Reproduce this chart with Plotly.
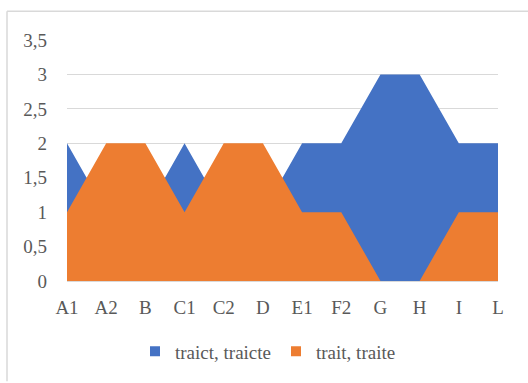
import plotly.graph_objects as go

categories = ["A1", "A2", "B", "C1", "C2", "D", "E1", "F2", "G", "H", "I", "L"]
traict_traicte = [2, 1, 1, 2, 1, 1, 2, 2, 3, 3, 2, 2]
trait_traite = [1, 2, 2, 1, 2, 2, 1, 1, 0, 0, 1, 1]
series_names = ["traict, traicte", "trait, traite"]

BLUE = "#4472C4"
ORANGE = "#ED7D31"
FONT = "Liberation Serif"
TEXT = "#595959"

fig = go.Figure()
for name, vals, col in [(series_names[0], traict_traicte, BLUE),
                        (series_names[1], trait_traite, ORANGE)]:
    fig.add_trace(go.Scatter(x=categories, y=vals, name=name, mode="lines",
                             line=dict(width=0, color=col), fill="tozeroy",
                             fillcolor=col, showlegend=False, hoverinfo="x+y+name"))
# legend entries with square swatches
for name, col in [(series_names[0], BLUE), (series_names[1], ORANGE)]:
    fig.add_trace(go.Scatter(x=[None], y=[None], name=name, mode="markers",
                             marker=dict(symbol="square", size=10, color=col),
                             showlegend=True))

W, H = 528, 383
L, R, T, B = 67, 30, 40, 100
pw, ph = W - L - R, H - T - B

def px_x(p):
    return (p - L) / pw

def px_y(p):
    return (H - B - p) / ph

fig.update_layout(
    width=W, height=H,
    margin=dict(l=L, r=R, t=T, b=B),
    paper_bgcolor="white", plot_bgcolor="white",
    separators=",.",
    font=dict(family=FONT, size=19, color=TEXT),
    showlegend=True,
    legend=dict(orientation="h", x=px_x(268), xanchor="center", y=px_y(354), yanchor="middle",
                font=dict(family=FONT, size=19, color=TEXT),
                traceorder="normal", itemwidth=30, bgcolor="rgba(0,0,0,0)"),
    xaxis=dict(type="category", range=[0, len(categories) - 1], showgrid=False,
               showline=True, linecolor="#D9D9D9", linewidth=1, ticks="",
               ticklabelstandoff=9, zeroline=False, fixedrange=True),
    yaxis=dict(range=[0, 3.5], dtick=0.5, showgrid=True, gridcolor="#D9D9D9",
               gridwidth=1, zeroline=False, showline=False, ticks="",
               ticklabelstandoff=19, fixedrange=True),
    shapes=[
        dict(type="line", xref="paper", yref="paper", x0=px_x(7), x1=px_x(529),
             y0=px_y(11), y1=px_y(11), line=dict(color="#D9D9D9", width=1.5)),
        dict(type="line", xref="paper", yref="paper", x0=px_x(7), x1=px_x(7),
             y0=px_y(11), y1=px_y(384), line=dict(color="#D9D9D9", width=1.5)),
    ],
)

fig.write_html("out.html", config={"displayModeBar": False},
               post_script="document.body.style.margin='0';")
